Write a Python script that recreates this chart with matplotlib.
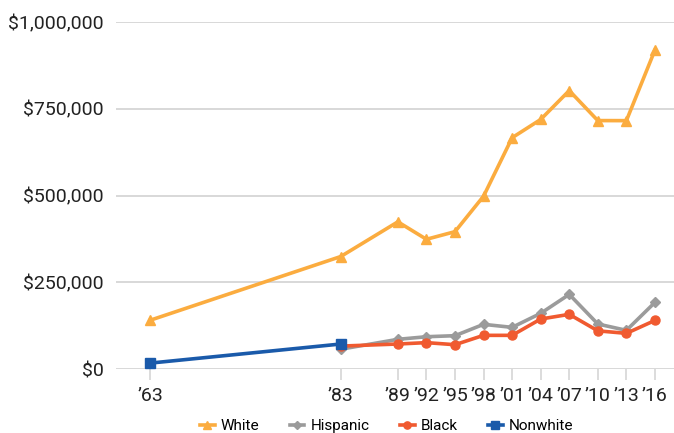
import numpy as np
import matplotlib
matplotlib.use("Agg")
import matplotlib.pyplot as plt
from matplotlib.ticker import FuncFormatter

plt.rcParams["font.family"] = ["Roboto", "DejaVu Sans"]

years = [1963, 1983, 1989, 1992, 1995, 1998, 2001, 2004, 2007, 2010, 2013, 2016]
year_labels = ["\u201963", "\u201983", "\u201989", "\u201992", "\u201995", "\u201998",
               "\u201901", "\u201904", "\u201907", "\u201910", "\u201913", "\u201916"]

white = [140600, 324100, 424100, 373800, 395800, 498000, 666500, 719100, 802400, 715900, 715700, 919300]
hispanic_years = years[1:]
hispanic = [57000, 85500, 93000, 96000, 128700, 120000, 160400, 215000, 129700, 111400, 192000]
black_years = years[1:]
black = [66000, 72000, 76000, 70000, 97000, 97000, 144000, 157500, 110000, 102700, 140000]
nonwhite_years = [1963, 1983]
nonwhite = [17000, 72000]

c_white = "#fbac3f"
c_hisp = "#9b9b9b"
c_black = "#f05a30"
c_nonwhite = "#1a5aaa"

fig = plt.figure(figsize=(6.74, 4.33), dpi=100)
ax = fig.add_axes([116 / 674, 1 - 369 / 433, (674 - 116) / 674, (369 - 22) / 433])

lw = 2.6
ms = 6.5
ax.plot(years, white, color=c_white, lw=lw, marker="^", ms=ms, label="White", clip_on=False, zorder=3)
ax.plot(hispanic_years, hispanic, color=c_hisp, lw=lw, marker="D", ms=ms - 1.5, label="Hispanic", clip_on=False, zorder=3)
ax.plot(black_years, black, color=c_black, lw=lw, marker="o", ms=ms, label="Black", clip_on=False, zorder=4)
ax.plot(nonwhite_years, nonwhite, color=c_nonwhite, lw=lw, marker="s", ms=ms, label="Nonwhite", clip_on=False, zorder=5)

ax.set_xlim(1959.4, 2018)
ax.set_ylim(0, 1000000)
ax.set_yticks([0, 250000, 500000, 750000, 1000000])
ax.yaxis.set_major_formatter(FuncFormatter(lambda v, p: f"${v:,.0f}"))
ax.set_xticks(years)
ax.set_xticklabels(year_labels)

ax.grid(axis="y", color="#d6d6d6", lw=1.3)
ax.set_axisbelow(True)
for s in ax.spines.values():
    s.set_visible(False)
ax.tick_params(axis="y", length=0, pad=9, labelsize=14, labelcolor="#222222")
ax.tick_params(axis="x", length=8, width=1.2, color="#d6d6d6", pad=5, labelsize=14, labelcolor="#222222")

fig.legend(loc="center left", bbox_to_anchor=(200 / 674, 1 - 426 / 433), ncol=4, frameon=False,
           fontsize=11, handlelength=0.95, handletextpad=0.4, columnspacing=2.0, markerscale=0.8,
           borderpad=0, borderaxespad=0)

fig.savefig("out.png", dpi=100)
